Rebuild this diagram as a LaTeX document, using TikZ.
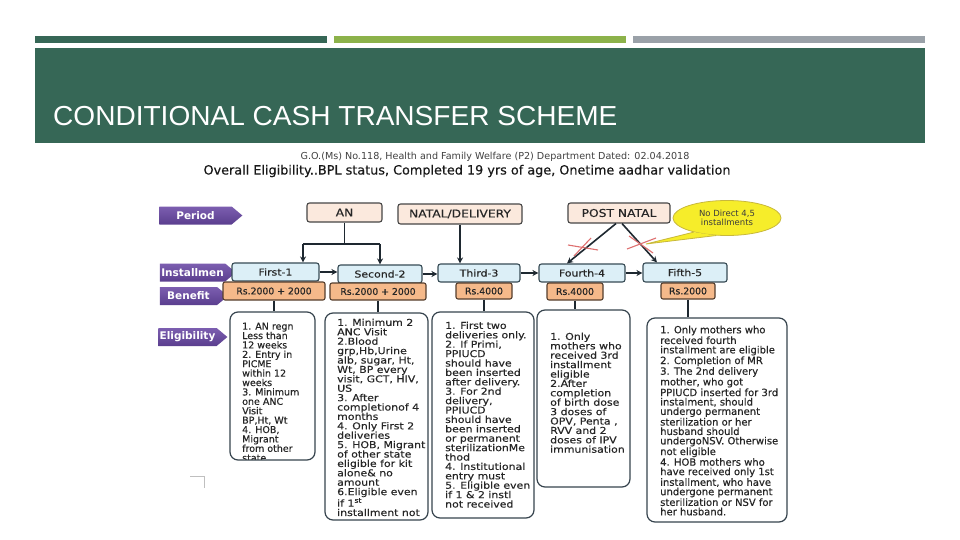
\documentclass[tikz,border=0pt]{standalone}
\usepackage{fontspec}
\setmainfont{Liberation Sans}
\newfontfamily\titlefont[FakeStretch=1.02]{Liberation Sans}
\newfontfamily\dv{DejaVu Sans}
\newfontfamily\dvm[FakeBold=0.35]{DejaVu Sans}
\newfontfamily\dvw[FakeStretch=1.15,FakeBold=0.35]{DejaVu Sans}
\usetikzlibrary{shapes.symbols,shapes.geometric,arrows.meta}
\definecolor{hdrgreen}{RGB}{54,103,86}
\definecolor{bargreen}{RGB}{140,178,74}
\definecolor{bargray}{RGB}{154,161,168}
\definecolor{purpTop}{RGB}{124,94,176}
\definecolor{purpBot}{RGB}{90,62,142}
\definecolor{peach}{RGB}{251,233,221}
\definecolor{edgeGray}{RGB}{70,70,70}
\definecolor{instFill}{RGB}{220,239,247}
\definecolor{instEdge}{RGB}{55,75,85}
\definecolor{benFill}{RGB}{245,185,138}
\definecolor{benEdge}{RGB}{85,62,45}
\definecolor{eligEdge}{RGB}{55,68,78}
\definecolor{connCol}{RGB}{30,40,48}
\definecolor{callFill}{RGB}{246,237,42}
\definecolor{callEdge}{RGB}{200,184,60}
\definecolor{callText}{RGB}{60,60,60}
\definecolor{xred}{RGB}{222,112,112}
\begin{document}
\begin{tikzpicture}[x=1pt,y=-1pt,
  purp/.style={signal, signal to=east, signal pointer angle=80, shading=axis,
    top color=purpTop, bottom color=purpBot, draw=none, text=white,
    font=\dv\bfseries\fontsize{10.5}{11}\selectfont, inner sep=0, minimum height=18},
  topbox/.style={draw=edgeGray, fill=peach, rounded corners=2.5, line width=1.1,
    font=\dvw\fontsize{10.7}{11}\selectfont, inner sep=0, text=black!85},
  instbox/.style={draw=instEdge, fill=instFill, rounded corners=2.5, line width=1.1,
    font=\dvw\fontsize{9.5}{10}\selectfont, inner sep=0, text=black!85},
  benbox/.style={draw=benEdge, fill=benFill, rounded corners=2, line width=1.1,
    font=\dvm\fontsize{9.3}{10}\selectfont, inner sep=0, text=black!85},
  elig/.style={draw=eligEdge, fill=white, rounded corners=8, line width=1.2, inner sep=0},
  etext/.style={align=left, inner sep=0, anchor=north west, text=black!85},
  conn/.style={line width=1.6, draw=connCol},
  arr/.style={conn, -{Stealth[length=6pt,width=6pt]}},
  xmark/.style={draw=xred, line width=1.1}
]
\useasboundingbox (0,0) rectangle (960,540);
\fill[white] (0,0) rectangle (960,540);
% header bars
\fill[hdrgreen] (35,36) rectangle (327,43);
\fill[bargreen] (334,36) rectangle (626,43);
\fill[bargray] (633,36) rectangle (925,43);
\fill[hdrgreen] (35,48) rectangle (925,143);
\node[anchor=base west, text=white, font=\titlefont\fontsize{27.5}{27.5}\selectfont, inner sep=0] (title) at (53,126) {CONDITIONAL CASH TRANSFER SCHEME};
% top texts
\node[font=\dv\fontsize{9.6}{10}\selectfont, text=black!75, inner sep=0] (go) at (495,157) {G.O.(Ms) No.118, Health and Family Welfare (P2) Department Dated: 02.04.2018};
\node[font=\dvm\fontsize{12.8}{13}\selectfont, text=black!90, inner sep=0] (overall) at (467,171) {Overall Eligibility..BPL status, Completed 19 yrs of age, Onetime aadhar validation};
% left labels
\node[purp, minimum width=83] (lperiod) at (195.5,215.5) {Period};
\node[purp, minimum width=76] (linst) at (192.5,272.5) {Installmen};
\node[purp, minimum width=68] (lben) at (188.5,296) {Benefit};
\node[purp, minimum width=69] (lelig) at (187.5,337) {Eligibility};
% period boxes
\node[topbox, minimum width=75, minimum height=19] (AN) at (344.5,212.5) {AN};
\node[topbox, minimum width=124, minimum height=20] (NATAL) at (460,214) {NATAL/DELIVERY};
\node[topbox, minimum width=102, minimum height=20] (PN) at (619,213) {POST NATAL};
% installment boxes
\node[instbox, minimum width=87, minimum height=18] (I1) at (275.5,272) {First-1};
\node[instbox, minimum width=84, minimum height=18] (I2) at (380,274) {Second-2};
\node[instbox, minimum width=82, minimum height=18] (I3) at (479,273) {Third-3};
\node[instbox, minimum width=86, minimum height=18] (I4) at (582,273) {Fourth-4};
\node[instbox, minimum width=84, minimum height=19] (I5) at (685,272.5) {Fifth-5};
% benefit boxes
\node[benbox, minimum width=102, minimum height=18] (B1) at (274,291) {Rs.2000 + 2000};
\node[benbox, minimum width=96, minimum height=17] (B2) at (378,291.5) {Rs.2000 + 2000};
\node[benbox, minimum width=56, minimum height=16] (B3) at (484,291) {Rs.4000};
\node[benbox, minimum width=56, minimum height=17] (B4) at (575,291.5) {Rs.4000};
\node[benbox, minimum width=54, minimum height=16] (B5) at (688,291) {Rs.2000};
% eligibility boxes
\node[elig, minimum width=85, minimum height=148] (E1) at (272.5,386) {};
\node[elig, minimum width=103, minimum height=207] (E2) at (376.5,416.5) {};
\node[elig, minimum width=102, minimum height=206] (E3) at (483,415) {};
\node[elig, minimum width=93, minimum height=177] (E4) at (583.5,398.5) {};
\node[elig, minimum width=140, minimum height=204] (E5) at (717,420) {};
% eligibility texts (clipped to boxes)
\begin{scope}
\clip[rounded corners=7] ([xshift=1pt,yshift=1pt]E1.south west) rectangle ([xshift=-1pt,yshift=-1pt]E1.north east);
\node[etext, font=\dvm\fontsize{9.5}{9.4}\selectfont] (T1) at (242,322.5) {1. AN regn\\Less than\\12 weeks\\2. Entry in\\PICME\\within 12\\weeks\\3. Minimum\\one ANC\\Visit\\BP,Ht, Wt\\4. HOB,\\Migrant\\from other\\state};
\end{scope}
\begin{scope}
\clip[rounded corners=7] ([xshift=1pt,yshift=1pt]E2.south west) rectangle ([xshift=-1pt,yshift=-1pt]E2.north east);
\node[etext, font=\dvw\fontsize{9.5}{9.4}\selectfont] (T2) at (337,318.5) {1. Minimum 2\\ANC Visit\\2.Blood\\grp,Hb,Urine\\alb, sugar, Ht,\\Wt, BP every\\visit, GCT, HIV,\\US\\3. After\\completionof 4\\months\\4. Only First 2\\deliveries\\5. HOB, Migrant\\of other state\\eligible for kit\\alone\& no\\amount\\6.Eligible even\\if 1\textsuperscript{st}\\installment not};
\end{scope}
\node[etext, font=\dvw\fontsize{9.5}{9.4}\selectfont] (T3) at (445,321.5) {1. First two\\deliveries only.\\2. If Primi,\\PPIUCD\\should have\\been inserted\\after delivery.\\3. For 2nd\\delivery,\\PPIUCD\\should have\\been inserted\\or permanent\\sterilizationMe\\thod\\4. Institutional\\entry must\\5. Eligible even\\if 1 \& 2 instl\\not received};
\node[etext, font=\dvw\fontsize{9.5}{9.4}\selectfont] (T4) at (550,332.5) {1. Only\\mothers who\\received 3rd\\installment\\eligible\\2.After\\completion\\of birth dose\\3 doses of\\OPV, Penta ,\\RVV and 2\\doses of IPV\\immunisation};
\node[etext, font=\dvm\fontsize{10}{9.4}\selectfont] (T5) at (660,325.5) {1. Only mothers who\\received fourth\\installment are eligible\\2. Completion of MR\\3. The 2nd delivery\\mother, who got\\PPIUCD inserted for 3rd\\instalment, should\\undergo permanent\\sterilization or her\\husband should\\undergoNSV. Otherwise\\not eligible\\4. HOB mothers who\\have received only 1st\\installment, who have\\undergone permanent\\sterilization or NSV for\\her husband.};
% connectors from period boxes
\coordinate (j1) at (303,244);
\coordinate (j2) at (380,244);
\draw[conn] (AN.south) -- (AN.south |- j1);
\draw[conn] (j1) -- (j2);
\draw[arr] (j1) -- (j1 |- I1.north);
\draw[arr] (j2) -- (j2 |- I2.north);
\draw[arr] (NATAL.south) -- (NATAL.south |- I3.north);
\draw[arr] ([xshift=-3pt]PN.south) -- ([xshift=-15pt]I4.north);
\draw[arr] ([xshift=3pt]PN.south) -- ([xshift=-28pt]I5.north);
% installment chain
\draw[arr] (I1.east) -- (I1.east -| I2.west);
\draw[arr] (I2.east) -- (I2.east -| I3.west);
\draw[arr] (I3.east) -- (I3.east -| I4.west);
\draw[arr] (I4.east) -- (I4.east -| I5.west);
% benefit to eligibility
\draw[conn, line width=1.8] (B1.south) -- (B1.south |- E1.north);
\draw[conn, line width=1.8] (B2.south) -- (B2.south |- E2.north);
\draw[conn, line width=1.8] (B3.south) -- (B3.south |- E3.north);
\draw[conn, line width=1.8] (B4.south) -- (B4.south |- E4.north);
\draw[conn, line width=1.8] (B5.south) -- (B5.south |- E5.north);
% red crosses
\draw[xmark] (568,245) -- (598,250);
\draw[xmark] (574,256) -- (591,238);
\draw[xmark] (627,249) -- (656,238);
\draw[xmark] (629,236) -- (653,253);
% callout
\node[ellipse, fill=callFill, draw=callEdge, line width=0.8, minimum width=108, minimum height=35, inner sep=0, align=center, font=\dv\fontsize{8.5}{9.5}\selectfont, text=callText] (call) at (727,218) {No Direct 4,5\\installments};
\coordinate (tip) at (646,244);
\fill[callFill] (call.203) -- (tip) -- (call.238) -- cycle;
\draw[callEdge, line width=0.8] (call.203) -- (tip) -- (call.238);
% small grey mark
\draw[black!25, line width=0.6] (190,476) -- (204,476) -- (204,488);
\end{tikzpicture}
\end{document}
